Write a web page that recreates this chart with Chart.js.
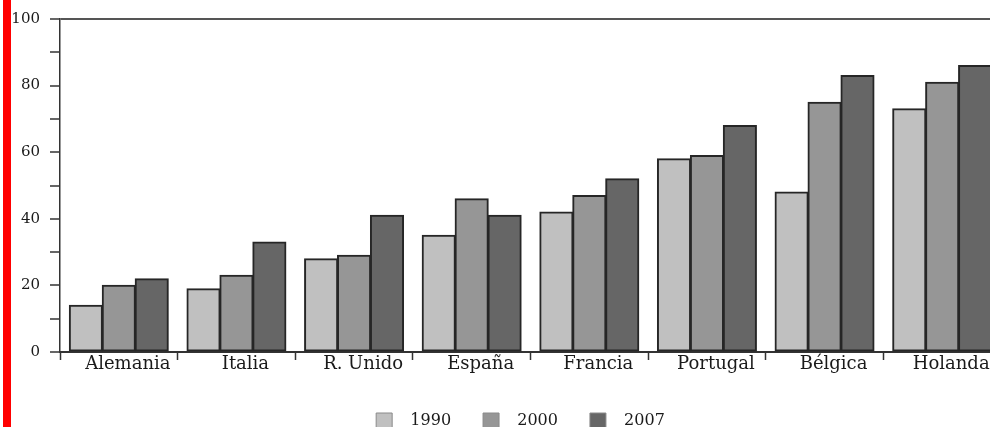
<!DOCTYPE html>
<html>
<head>
<meta charset="utf-8">
<script src="https://cdn.jsdelivr.net/npm/chart.js@4/dist/chart.umd.min.js"></script>
<style>
    html, body { margin: 0; padding: 0; background: #fff; overflow: hidden; }
    #wrap { position: relative; width: 990px; height: 427px; overflow: hidden; }
    #wrap canvas { position: absolute; left: 0; top: 0; }
    #redBar { position: absolute; left: 3px; top: 0; width: 8px; height: 427px; background: #ff0000; }
</style>
</head>
<body>
<div id="wrap">
    <canvas id="ServicesChart" width="1010" height="448" style="width:1010px;height:448px"></canvas>
    <div id="redBar"></div>
</div>
<script>
    const countries = ['Alemania', 'Italia', 'R. Unido', 'España', 'Francia', 'Portugal', 'Bélgica', 'Holanda'];
    const years = ['1990', '2000', '2007'];
    const values1990 = [14, 19, 28, 35, 42, 58, 48, 73];
    const values2000 = [20, 23, 29, 46, 47, 59, 75, 81];
    const values2007 = [22, 33, 41, 41, 52, 68, 83, 86];
    const yTicks = [0, 20, 40, 60, 80, 100];

    const fills = ['#c0c0c0', '#969696', '#666666'];
    const serif = 'DejaVu Serif';

    const defaultLabels = Chart.defaults.plugins.legend.labels.generateLabels;

    // nudge the legend a bit to the right, like the printed figure
    const shiftLegend = {
        id: 'shiftLegend',
        afterLayout: function (chart) {
            chart.legend.left += 40;
        }
    };

    const ctx = document.getElementById('ServicesChart');
    const ServicesChart = new Chart(ctx, {
        type: 'bar',
        data: {
            labels: countries,
            datasets: [values1990, values2000, values2007].map(function (values, i) {
                return {
                    label: years[i],
                    data: values,
                    backgroundColor: fills[i],
                    borderColor: '#262626',
                    borderWidth: 2,
                    borderSkipped: false,
                    inflateAmount: 0.6,
                    barPercentage: 1,
                    categoryPercentage: 0.84
                };
            })
        },
        options: {
            responsive: false,
            animation: false,
            layout: {
                padding: { top: 19, right: 9, left: 0, bottom: 9 }
            },
            scales: {
                x: {
                    afterFit: function (scale) { scale.height = 29; },
                    grid: {
                        offset: true,
                        drawOnChartArea: false,
                        tickLength: 8,
                        tickColor: '#333',
                        tickWidth: 1.5
                    },
                    border: { color: '#333', width: 2 },
                    ticks: {
                        labelOffset: 9,
                        padding: -6,
                        maxRotation: 0,
                        color: '#1a1a1a',
                        font: { family: serif, size: 18 }
                    }
                },
                y: {
                    min: 0,
                    max: 100,
                    afterFit: function (scale) { scale.width = 60; },
                    grid: {
                        color: function (c) {
                            return c.tick && c.tick.value === 100 ? '#555' : 'rgba(0,0,0,0)';
                        },
                        lineWidth: 2,
                        tickLength: 10,
                        tickColor: '#333',
                        tickWidth: 1.5
                    },
                    border: { color: '#333', width: 1.5 },
                    ticks: {
                        stepSize: 10,
                        padding: 10,
                        color: '#1a1a1a',
                        font: { family: serif, size: 15 },
                        callback: function (value) {
                            if (yTicks.includes(value)) {
                                return value;
                            }
                            return '';
                        }
                    }
                }
            },
            plugins: {
                tooltip: { enabled: false },
                legend: {
                    display: true,
                    position: 'bottom',
                    labels: {
                        boxWidth: 16,
                        boxHeight: 16,
                        padding: 32,
                        color: '#1a1a1a',
                        font: { family: serif, size: 16 },
                        generateLabels: function (chart) {
                            return defaultLabels(chart).map(function (item) {
                                item.text = '  ' + item.text;
                                item.strokeStyle = '#8a8a8a';
                                item.lineWidth = 1;
                                return item;
                            });
                        }
                    }
                }
            }
        },
        plugins: [shiftLegend]
    });
</script>
</body>
</html>
